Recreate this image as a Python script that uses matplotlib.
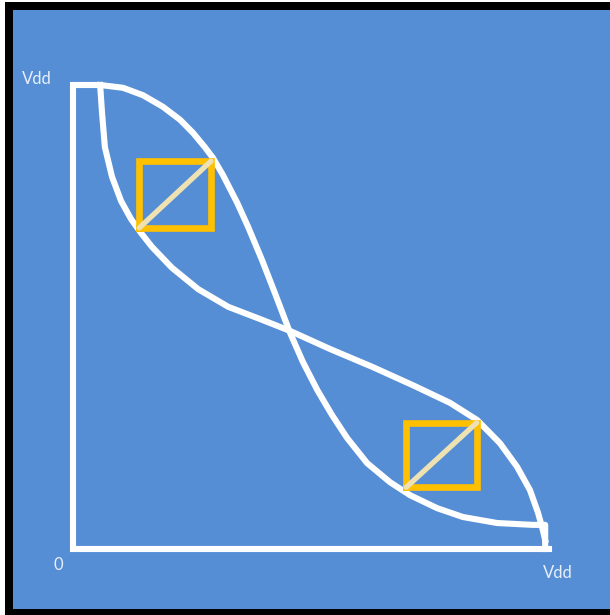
import matplotlib.pyplot as plt
from matplotlib.patches import Rectangle

# Butterfly curves of an SRAM cell, voltages in units of Vdd
# inverter 1: Vout vs Vin
inv1_x = [0.057, 0.105, 0.147, 0.189, 0.225, 0.252, 0.277, 0.294, 0.315, 0.345,
          0.368, 0.397, 0.424, 0.456, 0.483, 0.513, 0.544, 0.576, 0.618, 0.666,
          0.708, 0.765, 0.819, 0.891, 0.966, 0.992, 0.992]
inv1_y = [1.000, 0.994, 0.978, 0.953, 0.925, 0.897, 0.866, 0.843, 0.806, 0.746,
          0.694, 0.623, 0.552, 0.466, 0.403, 0.343, 0.289, 0.239, 0.185, 0.144,
          0.116, 0.088, 0.069, 0.056, 0.052, 0.052, 0.000]

# inverter 2 (mirrored axes)
inv2_x = [0.057, 0.061, 0.067, 0.082, 0.101, 0.122, 0.143, 0.166, 0.208, 0.263,
          0.326, 0.397, 0.456, 0.540, 0.630, 0.714, 0.792, 0.849, 0.897, 0.933,
          0.960, 0.977, 0.987, 0.992]
inv2_y = [1.000, 0.940, 0.866, 0.802, 0.750, 0.711, 0.681, 0.651, 0.606, 0.560,
          0.522, 0.494, 0.470, 0.431, 0.392, 0.353, 0.315, 0.278, 0.228, 0.177,
          0.127, 0.078, 0.041, 0.019]

# axes frame
frame_x = [0.057, 0.0, 0.0, 1.0]
frame_y = [1.0, 1.0, 0.0, 0.0]

# noise margin squares: (x0, x1, y0, y1)
squares = [(0.139, 0.290, 0.692, 0.836),
           (0.700, 0.848, 0.133, 0.272)]

blue = "#558ED5"

fig = plt.figure(figsize=(6.10, 6.15), dpi=100)
fig.patch.set_facecolor("white")
W, H = 610, 615
fig.patches.append(Rectangle((5 / W, 0), 1, 1 - 2 / H, transform=fig.transFigure,
                             facecolor="black", edgecolor="none", zorder=-2))
fig.patches.append(Rectangle((13 / W, 6 / H), 1, 1 - 16 / H, transform=fig.transFigure,
                             facecolor=blue, edgecolor="none", zorder=-1))

ax = fig.add_axes([0, 0, 1, 1])
ax.set_xlim(-73 / 476, 537 / 476)
ax.set_ylim(-66 / 464, 549 / 464)
ax.axis("off")

lw = 4.4
white = "white"
ax.plot(frame_x, frame_y, color=white, lw=lw, solid_joinstyle="miter",
        solid_capstyle="projecting")
ax.plot(inv1_x, inv1_y, color=white, lw=lw, solid_joinstyle="round")
ax.plot(inv2_x, inv2_y, color=white, lw=lw, solid_joinstyle="round")

for x0, x1, y0, y1 in squares:
    ax.plot([x0, x1, x1, x0, x0], [y0, y0, y1, y1, y0], color="#FFC000",
            lw=4.8, solid_joinstyle="miter")
    ax.plot([x0, x1], [y0, y1], color="#EEE1B2", lw=3.8, solid_capstyle="round")

txt = dict(color="#E8EFFA", fontsize=12, family="Lato", ha="center", va="center")
ax.text(-0.077, 1.014, "Vdd", **txt)
ax.text(-0.030, -0.035, "0", **txt)
ax.text(1.018, -0.051, "Vdd", **txt)

fig.savefig("out.png", dpi=100, facecolor=fig.get_facecolor())
